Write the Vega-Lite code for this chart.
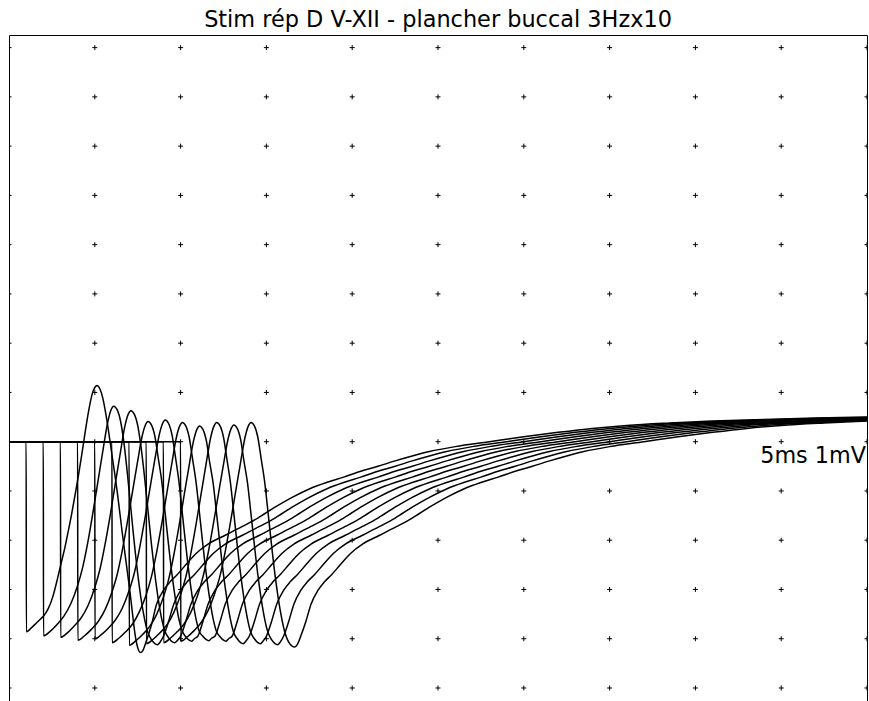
{
  "$schema": "https://vega.github.io/schema/vega-lite/v6.json",
  "autosize": "none",
  "width": 858,
  "height": 666,
  "padding": {"left": 9, "top": 35, "right": 2, "bottom": 0},
  "background": "white",
  "title": {"text": "Stim rép D V-XII - plancher buccal 3Hzx10", "font": "DejaVu Sans", "fontSize": 22.4, "fontWeight": "normal", "color": "black", "anchor": "middle", "offset": 4},
  "config": {
    "view": {"stroke": "black", "strokeWidth": 1}
  },
  "datasets": {
    "grid": [
{"gx":0,"gy":-5},{"gx":0,"gy":-4},{"gx":0,"gy":-3},{"gx":0,"gy":-2},{"gx":0,"gy":-1},{"gx":0,"gy":0},{"gx":0,"gy":1},{"gx":0,"gy":2},{"gx":0,"gy":3},{"gx":0,"gy":4},{"gx":0,"gy":5},{"gx":0,"gy":6},{"gx":0,"gy":7},{"gx":0,"gy":8},
{"gx":5,"gy":-5},{"gx":5,"gy":-4},{"gx":5,"gy":-3},{"gx":5,"gy":-2},{"gx":5,"gy":-1},{"gx":5,"gy":0},{"gx":5,"gy":1},{"gx":5,"gy":2},{"gx":5,"gy":3},{"gx":5,"gy":4},{"gx":5,"gy":5},{"gx":5,"gy":6},{"gx":5,"gy":7},{"gx":5,"gy":8},
{"gx":10,"gy":-5},{"gx":10,"gy":-4},{"gx":10,"gy":-3},{"gx":10,"gy":-2},{"gx":10,"gy":-1},{"gx":10,"gy":0},{"gx":10,"gy":1},{"gx":10,"gy":2},{"gx":10,"gy":3},{"gx":10,"gy":4},{"gx":10,"gy":5},{"gx":10,"gy":6},{"gx":10,"gy":7},{"gx":10,"gy":8},
{"gx":15,"gy":-5},{"gx":15,"gy":-4},{"gx":15,"gy":-3},{"gx":15,"gy":-2},{"gx":15,"gy":-1},{"gx":15,"gy":0},{"gx":15,"gy":1},{"gx":15,"gy":2},{"gx":15,"gy":3},{"gx":15,"gy":4},{"gx":15,"gy":5},{"gx":15,"gy":6},{"gx":15,"gy":7},{"gx":15,"gy":8},
{"gx":20,"gy":-5},{"gx":20,"gy":-4},{"gx":20,"gy":-3},{"gx":20,"gy":-2},{"gx":20,"gy":-1},{"gx":20,"gy":0},{"gx":20,"gy":1},{"gx":20,"gy":2},{"gx":20,"gy":3},{"gx":20,"gy":4},{"gx":20,"gy":5},{"gx":20,"gy":6},{"gx":20,"gy":7},{"gx":20,"gy":8},
{"gx":25,"gy":-5},{"gx":25,"gy":-4},{"gx":25,"gy":-3},{"gx":25,"gy":-2},{"gx":25,"gy":-1},{"gx":25,"gy":0},{"gx":25,"gy":1},{"gx":25,"gy":2},{"gx":25,"gy":3},{"gx":25,"gy":4},{"gx":25,"gy":5},{"gx":25,"gy":6},{"gx":25,"gy":7},{"gx":25,"gy":8},
{"gx":30,"gy":-5},{"gx":30,"gy":-4},{"gx":30,"gy":-3},{"gx":30,"gy":-2},{"gx":30,"gy":-1},{"gx":30,"gy":0},{"gx":30,"gy":1},{"gx":30,"gy":2},{"gx":30,"gy":3},{"gx":30,"gy":4},{"gx":30,"gy":5},{"gx":30,"gy":6},{"gx":30,"gy":7},{"gx":30,"gy":8},
{"gx":35,"gy":-5},{"gx":35,"gy":-4},{"gx":35,"gy":-3},{"gx":35,"gy":-2},{"gx":35,"gy":-1},{"gx":35,"gy":0},{"gx":35,"gy":1},{"gx":35,"gy":2},{"gx":35,"gy":3},{"gx":35,"gy":4},{"gx":35,"gy":5},{"gx":35,"gy":6},{"gx":35,"gy":7},{"gx":35,"gy":8},
{"gx":40,"gy":-5},{"gx":40,"gy":-4},{"gx":40,"gy":-3},{"gx":40,"gy":-2},{"gx":40,"gy":-1},{"gx":40,"gy":0},{"gx":40,"gy":1},{"gx":40,"gy":2},{"gx":40,"gy":3},{"gx":40,"gy":4},{"gx":40,"gy":5},{"gx":40,"gy":6},{"gx":40,"gy":7},{"gx":40,"gy":8},
{"gx":45,"gy":-5},{"gx":45,"gy":-4},{"gx":45,"gy":-3},{"gx":45,"gy":-2},{"gx":45,"gy":-1},{"gx":45,"gy":0},{"gx":45,"gy":1},{"gx":45,"gy":2},{"gx":45,"gy":3},{"gx":45,"gy":4},{"gx":45,"gy":5},{"gx":45,"gy":6},{"gx":45,"gy":7},{"gx":45,"gy":8},
{"gx":50,"gy":-5},{"gx":50,"gy":-4},{"gx":50,"gy":-3},{"gx":50,"gy":-2},{"gx":50,"gy":-1},{"gx":50,"gy":0},{"gx":50,"gy":1},{"gx":50,"gy":2},{"gx":50,"gy":3},{"gx":50,"gy":4},{"gx":50,"gy":5},{"gx":50,"gy":6},{"gx":50,"gy":7},{"gx":50,"gy":8}
    ],
    "traces": [
{"s":1,"t":0,"v":0},{"s":1,"t":1,"v":0},{"s":1,"t":1.01,"v":-3.86},{"s":1,"t":1.3,"v":-3.78},{"s":1,"t":1.6,"v":-3.68},{"s":1,"t":1.87,"v":-3.59},{"s":1,"t":2.1,"v":-3.5},{"s":1,"t":2.3,"v":-3.38},{"s":1,"t":2.55,"v":-3.15},{"s":1,"t":2.84,"v":-2.76},{"s":1,"t":3.05,"v":-2.45},{"s":1,"t":3.25,"v":-2.16},{"s":1,"t":3.45,"v":-1.82},{"s":1,"t":3.65,"v":-1.47},{"s":1,"t":3.85,"v":-1.08},{"s":1,"t":4.05,"v":-0.68},{"s":1,"t":4.25,"v":-0.24},{"s":1,"t":4.45,"v":0.22},{"s":1,"t":4.65,"v":0.64},{"s":1,"t":4.85,"v":0.97},{"s":1,"t":5.0,"v":1.1},{"s":1,"t":5.13,"v":1.14},{"s":1,"t":5.3,"v":1.07},{"s":1,"t":5.47,"v":0.88},{"s":1,"t":5.65,"v":0.55},{"s":1,"t":5.85,"v":0.1},{"s":1,"t":6.0,"v":-0.27},{"s":1,"t":6.14,"v":-0.6},{"s":1,"t":6.3,"v":-1.0},{"s":1,"t":6.45,"v":-1.42},{"s":1,"t":6.6,"v":-1.85},{"s":1,"t":6.75,"v":-2.25},{"s":1,"t":6.9,"v":-2.65},{"s":1,"t":7.05,"v":-3.05},{"s":1,"t":7.2,"v":-3.5},{"s":1,"t":7.35,"v":-3.92},{"s":1,"t":7.5,"v":-4.18},{"s":1,"t":7.66,"v":-4.28},{"s":1,"t":7.8,"v":-4.24},{"s":1,"t":8.0,"v":-4.05},{"s":1,"t":8.3,"v":-3.72},{"s":1,"t":8.6,"v":-3.3},{"s":1,"t":9.0,"v":-3.02},{"s":1,"t":9.4,"v":-2.84},{"s":1,"t":9.8,"v":-2.7},{"s":1,"t":10.3,"v":-2.5},{"s":1,"t":10.9,"v":-2.27},{"s":1,"t":11.6,"v":-2.08},{"s":1,"t":12.6,"v":-1.9},{"s":1,"t":13.6,"v":-1.72},{"s":1,"t":14.5,"v":-1.55},{"s":1,"t":15.5,"v":-1.33},{"s":1,"t":16.5,"v":-1.13},{"s":1,"t":17.5,"v":-0.96},{"s":1,"t":18.5,"v":-0.83},{"s":1,"t":19.5,"v":-0.72},{"s":1,"t":20.5,"v":-0.6},{"s":1,"t":21.5,"v":-0.5},{"s":1,"t":22.5,"v":-0.39},{"s":1,"t":23.5,"v":-0.29},{"s":1,"t":24.5,"v":-0.2},{"s":1,"t":26,"v":-0.1},{"s":1,"t":28,"v":0},{"s":1,"t":30,"v":0.1},{"s":1,"t":32,"v":0.19},{"s":1,"t":34,"v":0.27},{"s":1,"t":36,"v":0.33},{"s":1,"t":38.5,"v":0.38},{"s":1,"t":41,"v":0.42},{"s":1,"t":44,"v":0.45},{"s":1,"t":47,"v":0.48},{"s":1,"t":50,"v":0.5},

{"s":2,"t":0,"v":0},{"s":2,"t":2,"v":0},{"s":2,"t":2.01,"v":-3.94},{"s":2,"t":2.4,"v":-3.85},{"s":2,"t":2.8,"v":-3.71},{"s":2,"t":3.2,"v":-3.54},{"s":2,"t":3.6,"v":-3.29},{"s":2,"t":4.0,"v":-2.92},{"s":2,"t":4.3,"v":-2.54},{"s":2,"t":4.6,"v":-2.03},{"s":2,"t":4.9,"v":-1.42},{"s":2,"t":5.2,"v":-0.77},{"s":2,"t":5.5,"v":-0.12},{"s":2,"t":5.75,"v":0.39},{"s":2,"t":5.95,"v":0.65},{"s":2,"t":6.1,"v":0.72},{"s":2,"t":6.3,"v":0.65},{"s":2,"t":6.5,"v":0.42},{"s":2,"t":6.7,"v":-0.03},{"s":2,"t":6.9,"v":-0.65},{"s":2,"t":7.1,"v":-1.35},{"s":2,"t":7.3,"v":-2.05},{"s":2,"t":7.5,"v":-2.68},{"s":2,"t":7.7,"v":-3.2},{"s":2,"t":7.9,"v":-3.6},{"s":2,"t":8.1,"v":-3.88},{"s":2,"t":8.3,"v":-4.02},{"s":2,"t":8.5,"v":-4.1},{"s":2,"t":8.65,"v":-4.12},{"s":2,"t":8.8,"v":-4.07},{"s":2,"t":9.0,"v":-3.95},{"s":2,"t":9.3,"v":-3.65},{"s":2,"t":9.6,"v":-3.3},{"s":2,"t":10,"v":-3.02},{"s":2,"t":10.4,"v":-2.84},{"s":2,"t":10.8,"v":-2.7},{"s":2,"t":11.3,"v":-2.5},{"s":2,"t":11.9,"v":-2.27},{"s":2,"t":12.6,"v":-2.08},{"s":2,"t":13.6,"v":-1.9},{"s":2,"t":14.6,"v":-1.72},{"s":2,"t":15.5,"v":-1.55},{"s":2,"t":16.5,"v":-1.33},{"s":2,"t":17.5,"v":-1.13},{"s":2,"t":18.5,"v":-0.96},{"s":2,"t":19.5,"v":-0.83},{"s":2,"t":20.5,"v":-0.72},{"s":2,"t":21.5,"v":-0.6},{"s":2,"t":22.5,"v":-0.5},{"s":2,"t":23.5,"v":-0.39},{"s":2,"t":24.5,"v":-0.29},{"s":2,"t":25.5,"v":-0.2},{"s":2,"t":27,"v":-0.1},{"s":2,"t":29,"v":0},{"s":2,"t":31,"v":0.1},{"s":2,"t":33,"v":0.19},{"s":2,"t":35,"v":0.27},{"s":2,"t":37,"v":0.33},{"s":2,"t":39.5,"v":0.38},{"s":2,"t":42,"v":0.42},{"s":2,"t":45,"v":0.45},{"s":2,"t":48,"v":0.48},{"s":2,"t":51,"v":0.5},

{"s":3,"t":0,"v":0},{"s":3,"t":3,"v":0},{"s":3,"t":3.01,"v":-3.97},{"s":3,"t":3.4,"v":-3.88},{"s":3,"t":3.8,"v":-3.74},{"s":3,"t":4.2,"v":-3.58},{"s":3,"t":4.6,"v":-3.33},{"s":3,"t":5.0,"v":-2.96},{"s":3,"t":5.3,"v":-2.59},{"s":3,"t":5.6,"v":-2.08},{"s":3,"t":5.9,"v":-1.49},{"s":3,"t":6.2,"v":-0.84},{"s":3,"t":6.5,"v":-0.2},{"s":3,"t":6.75,"v":0.31},{"s":3,"t":6.95,"v":0.56},{"s":3,"t":7.1,"v":0.63},{"s":3,"t":7.3,"v":0.56},{"s":3,"t":7.5,"v":0.33},{"s":3,"t":7.7,"v":-0.12},{"s":3,"t":7.9,"v":-0.72},{"s":3,"t":8.1,"v":-1.4},{"s":3,"t":8.3,"v":-2.08},{"s":3,"t":8.5,"v":-2.69},{"s":3,"t":8.7,"v":-3.2},{"s":3,"t":8.9,"v":-3.6},{"s":3,"t":9.1,"v":-3.86},{"s":3,"t":9.3,"v":-3.98},{"s":3,"t":9.5,"v":-4.06},{"s":3,"t":9.65,"v":-4.08},{"s":3,"t":9.8,"v":-4.04},{"s":3,"t":10,"v":-3.95},{"s":3,"t":10.3,"v":-3.65},{"s":3,"t":10.6,"v":-3.3},{"s":3,"t":11,"v":-3.02},{"s":3,"t":11.4,"v":-2.84},{"s":3,"t":11.8,"v":-2.7},{"s":3,"t":12.3,"v":-2.5},{"s":3,"t":12.9,"v":-2.27},{"s":3,"t":13.6,"v":-2.08},{"s":3,"t":14.6,"v":-1.9},{"s":3,"t":15.6,"v":-1.72},{"s":3,"t":16.5,"v":-1.55},{"s":3,"t":17.5,"v":-1.33},{"s":3,"t":18.5,"v":-1.13},{"s":3,"t":19.5,"v":-0.96},{"s":3,"t":20.5,"v":-0.83},{"s":3,"t":21.5,"v":-0.72},{"s":3,"t":22.5,"v":-0.6},{"s":3,"t":23.5,"v":-0.5},{"s":3,"t":24.5,"v":-0.39},{"s":3,"t":25.5,"v":-0.29},{"s":3,"t":26.5,"v":-0.2},{"s":3,"t":28,"v":-0.1},{"s":3,"t":30,"v":0},{"s":3,"t":32,"v":0.1},{"s":3,"t":34,"v":0.19},{"s":3,"t":36,"v":0.27},{"s":3,"t":38,"v":0.33},{"s":3,"t":40.5,"v":0.38},{"s":3,"t":43,"v":0.42},{"s":3,"t":46,"v":0.45},{"s":3,"t":49,"v":0.48},{"s":3,"t":52,"v":0.5},

{"s":4,"t":0,"v":0},{"s":4,"t":4,"v":0},{"s":4,"t":4.01,"v":-4.03},{"s":4,"t":4.4,"v":-3.94},{"s":4,"t":4.8,"v":-3.81},{"s":4,"t":5.2,"v":-3.65},{"s":4,"t":5.6,"v":-3.41},{"s":4,"t":6.0,"v":-3.05},{"s":4,"t":6.3,"v":-2.7},{"s":4,"t":6.6,"v":-2.21},{"s":4,"t":6.9,"v":-1.63},{"s":4,"t":7.2,"v":-1.01},{"s":4,"t":7.5,"v":-0.39},{"s":4,"t":7.75,"v":0.1},{"s":4,"t":7.95,"v":0.34},{"s":4,"t":8.1,"v":0.41},{"s":4,"t":8.3,"v":0.34},{"s":4,"t":8.5,"v":0.11},{"s":4,"t":8.7,"v":-0.34},{"s":4,"t":8.9,"v":-0.8},{"s":4,"t":9.1,"v":-1.45},{"s":4,"t":9.3,"v":-2.1},{"s":4,"t":9.5,"v":-2.7},{"s":4,"t":9.7,"v":-3.2},{"s":4,"t":9.9,"v":-3.6},{"s":4,"t":10.1,"v":-3.85},{"s":4,"t":10.3,"v":-3.96},{"s":4,"t":10.5,"v":-4.03},{"s":4,"t":10.65,"v":-4.05},{"s":4,"t":10.8,"v":-4.0},{"s":4,"t":11,"v":-3.95},{"s":4,"t":11.3,"v":-3.65},{"s":4,"t":11.6,"v":-3.3},{"s":4,"t":12,"v":-3.02},{"s":4,"t":12.4,"v":-2.84},{"s":4,"t":12.8,"v":-2.7},{"s":4,"t":13.3,"v":-2.5},{"s":4,"t":13.9,"v":-2.27},{"s":4,"t":14.6,"v":-2.08},{"s":4,"t":15.6,"v":-1.9},{"s":4,"t":16.6,"v":-1.72},{"s":4,"t":17.5,"v":-1.55},{"s":4,"t":18.5,"v":-1.33},{"s":4,"t":19.5,"v":-1.13},{"s":4,"t":20.5,"v":-0.96},{"s":4,"t":21.5,"v":-0.83},{"s":4,"t":22.5,"v":-0.72},{"s":4,"t":23.5,"v":-0.6},{"s":4,"t":24.5,"v":-0.5},{"s":4,"t":25.5,"v":-0.39},{"s":4,"t":26.5,"v":-0.29},{"s":4,"t":27.5,"v":-0.2},{"s":4,"t":29,"v":-0.1},{"s":4,"t":31,"v":0},{"s":4,"t":33,"v":0.1},{"s":4,"t":35,"v":0.19},{"s":4,"t":37,"v":0.27},{"s":4,"t":39,"v":0.33},{"s":4,"t":41.5,"v":0.38},{"s":4,"t":44,"v":0.42},{"s":4,"t":47,"v":0.45},{"s":4,"t":50,"v":0.48},

{"s":5,"t":0,"v":0},{"s":5,"t":5,"v":0},{"s":5,"t":5.01,"v":-4.0},{"s":5,"t":5.4,"v":-3.91},{"s":5,"t":5.8,"v":-3.78},{"s":5,"t":6.2,"v":-3.62},{"s":5,"t":6.6,"v":-3.38},{"s":5,"t":7.0,"v":-3.02},{"s":5,"t":7.3,"v":-2.67},{"s":5,"t":7.6,"v":-2.18},{"s":5,"t":7.9,"v":-1.6},{"s":5,"t":8.2,"v":-0.98},{"s":5,"t":8.5,"v":-0.36},{"s":5,"t":8.75,"v":0.13},{"s":5,"t":8.95,"v":0.37},{"s":5,"t":9.1,"v":0.44},{"s":5,"t":9.3,"v":0.37},{"s":5,"t":9.5,"v":0.14},{"s":5,"t":9.7,"v":-0.31},{"s":5,"t":9.9,"v":-0.8},{"s":5,"t":10.1,"v":-1.45},{"s":5,"t":10.3,"v":-2.1},{"s":5,"t":10.5,"v":-2.7},{"s":5,"t":10.7,"v":-3.2},{"s":5,"t":10.9,"v":-3.6},{"s":5,"t":11.1,"v":-3.86},{"s":5,"t":11.3,"v":-3.95},{"s":5,"t":11.5,"v":-4.02},{"s":5,"t":11.65,"v":-4.04},{"s":5,"t":11.8,"v":-3.99},{"s":5,"t":12,"v":-3.95},{"s":5,"t":12.3,"v":-3.65},{"s":5,"t":12.6,"v":-3.3},{"s":5,"t":13,"v":-3.02},{"s":5,"t":13.4,"v":-2.84},{"s":5,"t":13.8,"v":-2.7},{"s":5,"t":14.3,"v":-2.5},{"s":5,"t":14.9,"v":-2.27},{"s":5,"t":15.6,"v":-2.08},{"s":5,"t":16.6,"v":-1.9},{"s":5,"t":17.6,"v":-1.72},{"s":5,"t":18.5,"v":-1.55},{"s":5,"t":19.5,"v":-1.33},{"s":5,"t":20.5,"v":-1.13},{"s":5,"t":21.5,"v":-0.96},{"s":5,"t":22.5,"v":-0.83},{"s":5,"t":23.5,"v":-0.72},{"s":5,"t":24.5,"v":-0.6},{"s":5,"t":25.5,"v":-0.5},{"s":5,"t":26.5,"v":-0.39},{"s":5,"t":27.5,"v":-0.29},{"s":5,"t":28.5,"v":-0.2},{"s":5,"t":30,"v":-0.1},{"s":5,"t":32,"v":0},{"s":5,"t":34,"v":0.1},{"s":5,"t":36,"v":0.19},{"s":5,"t":38,"v":0.27},{"s":5,"t":40,"v":0.33},{"s":5,"t":42.5,"v":0.38},{"s":5,"t":45,"v":0.42},{"s":5,"t":48,"v":0.45},{"s":5,"t":51,"v":0.48},

{"s":6,"t":0,"v":0},{"s":6,"t":6,"v":0},{"s":6,"t":6.01,"v":-4.08},{"s":6,"t":6.4,"v":-3.99},{"s":6,"t":6.8,"v":-3.86},{"s":6,"t":7.2,"v":-3.7},{"s":6,"t":7.6,"v":-3.45},{"s":6,"t":8.0,"v":-3.1},{"s":6,"t":8.3,"v":-2.74},{"s":6,"t":8.6,"v":-2.25},{"s":6,"t":8.9,"v":-1.67},{"s":6,"t":9.2,"v":-1.04},{"s":6,"t":9.5,"v":-0.42},{"s":6,"t":9.75,"v":0.08},{"s":6,"t":9.95,"v":0.32},{"s":6,"t":10.1,"v":0.39},{"s":6,"t":10.3,"v":0.32},{"s":6,"t":10.5,"v":0.09},{"s":6,"t":10.7,"v":-0.36},{"s":6,"t":10.9,"v":-0.82},{"s":6,"t":11.1,"v":-1.45},{"s":6,"t":11.3,"v":-2.1},{"s":6,"t":11.5,"v":-2.7},{"s":6,"t":11.7,"v":-3.2},{"s":6,"t":11.9,"v":-3.6},{"s":6,"t":12.1,"v":-3.86},{"s":6,"t":12.3,"v":-3.96},{"s":6,"t":12.5,"v":-4.03},{"s":6,"t":12.65,"v":-4.05},{"s":6,"t":12.8,"v":-4.0},{"s":6,"t":13,"v":-3.95},{"s":6,"t":13.3,"v":-3.65},{"s":6,"t":13.6,"v":-3.3},{"s":6,"t":14,"v":-3.02},{"s":6,"t":14.4,"v":-2.84},{"s":6,"t":14.8,"v":-2.7},{"s":6,"t":15.3,"v":-2.5},{"s":6,"t":15.9,"v":-2.27},{"s":6,"t":16.6,"v":-2.08},{"s":6,"t":17.6,"v":-1.9},{"s":6,"t":18.6,"v":-1.72},{"s":6,"t":19.5,"v":-1.55},{"s":6,"t":20.5,"v":-1.33},{"s":6,"t":21.5,"v":-1.13},{"s":6,"t":22.5,"v":-0.96},{"s":6,"t":23.5,"v":-0.83},{"s":6,"t":24.5,"v":-0.72},{"s":6,"t":25.5,"v":-0.6},{"s":6,"t":26.5,"v":-0.5},{"s":6,"t":27.5,"v":-0.39},{"s":6,"t":28.5,"v":-0.29},{"s":6,"t":29.5,"v":-0.2},{"s":6,"t":31,"v":-0.1},{"s":6,"t":33,"v":0},{"s":6,"t":35,"v":0.1},{"s":6,"t":37,"v":0.19},{"s":6,"t":39,"v":0.27},{"s":6,"t":41,"v":0.33},{"s":6,"t":43.5,"v":0.38},{"s":6,"t":46,"v":0.42},{"s":6,"t":49,"v":0.45},{"s":6,"t":52,"v":0.48},

{"s":7,"t":0,"v":0},{"s":7,"t":7,"v":0},{"s":7,"t":7.01,"v":-4.13},{"s":7,"t":7.4,"v":-4.04},{"s":7,"t":7.8,"v":-3.91},{"s":7,"t":8.2,"v":-3.75},{"s":7,"t":8.6,"v":-3.51},{"s":7,"t":9.0,"v":-3.15},{"s":7,"t":9.3,"v":-2.8},{"s":7,"t":9.6,"v":-2.31},{"s":7,"t":9.9,"v":-1.73},{"s":7,"t":10.2,"v":-1.1},{"s":7,"t":10.5,"v":-0.48},{"s":7,"t":10.75,"v":0.01},{"s":7,"t":10.95,"v":0.25},{"s":7,"t":11.1,"v":0.32},{"s":7,"t":11.3,"v":0.25},{"s":7,"t":11.5,"v":0.02},{"s":7,"t":11.7,"v":-0.43},{"s":7,"t":11.9,"v":-0.85},{"s":7,"t":12.1,"v":-1.47},{"s":7,"t":12.3,"v":-2.1},{"s":7,"t":12.5,"v":-2.7},{"s":7,"t":12.7,"v":-3.2},{"s":7,"t":12.9,"v":-3.6},{"s":7,"t":13.1,"v":-3.88},{"s":7,"t":13.3,"v":-4.0},{"s":7,"t":13.5,"v":-4.08},{"s":7,"t":13.65,"v":-4.1},{"s":7,"t":13.8,"v":-4.05},{"s":7,"t":14,"v":-3.95},{"s":7,"t":14.3,"v":-3.65},{"s":7,"t":14.6,"v":-3.3},{"s":7,"t":15,"v":-3.02},{"s":7,"t":15.4,"v":-2.84},{"s":7,"t":15.8,"v":-2.7},{"s":7,"t":16.3,"v":-2.5},{"s":7,"t":16.9,"v":-2.27},{"s":7,"t":17.6,"v":-2.08},{"s":7,"t":18.6,"v":-1.9},{"s":7,"t":19.6,"v":-1.72},{"s":7,"t":20.5,"v":-1.55},{"s":7,"t":21.5,"v":-1.33},{"s":7,"t":22.5,"v":-1.13},{"s":7,"t":23.5,"v":-0.96},{"s":7,"t":24.5,"v":-0.83},{"s":7,"t":25.5,"v":-0.72},{"s":7,"t":26.5,"v":-0.6},{"s":7,"t":27.5,"v":-0.5},{"s":7,"t":28.5,"v":-0.39},{"s":7,"t":29.5,"v":-0.29},{"s":7,"t":30.5,"v":-0.2},{"s":7,"t":32,"v":-0.1},{"s":7,"t":34,"v":0},{"s":7,"t":36,"v":0.1},{"s":7,"t":38,"v":0.19},{"s":7,"t":40,"v":0.27},{"s":7,"t":42,"v":0.33},{"s":7,"t":44.5,"v":0.38},{"s":7,"t":47,"v":0.42},{"s":7,"t":50,"v":0.45},

{"s":8,"t":0,"v":0},{"s":8,"t":8,"v":0},{"s":8,"t":8.01,"v":-4.1},{"s":8,"t":8.4,"v":-4.01},{"s":8,"t":8.8,"v":-3.88},{"s":8,"t":9.2,"v":-3.72},{"s":8,"t":9.6,"v":-3.47},{"s":8,"t":10.0,"v":-3.11},{"s":8,"t":10.3,"v":-2.75},{"s":8,"t":10.6,"v":-2.26},{"s":8,"t":10.9,"v":-1.68},{"s":8,"t":11.2,"v":-1.05},{"s":8,"t":11.5,"v":-0.42},{"s":8,"t":11.75,"v":0.08},{"s":8,"t":11.95,"v":0.32},{"s":8,"t":12.1,"v":0.39},{"s":8,"t":12.3,"v":0.32},{"s":8,"t":12.5,"v":0.09},{"s":8,"t":12.7,"v":-0.36},{"s":8,"t":12.9,"v":-0.82},{"s":8,"t":13.1,"v":-1.45},{"s":8,"t":13.3,"v":-2.1},{"s":8,"t":13.5,"v":-2.7},{"s":8,"t":13.7,"v":-3.2},{"s":8,"t":13.9,"v":-3.6},{"s":8,"t":14.1,"v":-3.88},{"s":8,"t":14.3,"v":-4.0},{"s":8,"t":14.5,"v":-4.08},{"s":8,"t":14.65,"v":-4.1},{"s":8,"t":14.8,"v":-4.05},{"s":8,"t":15,"v":-3.95},{"s":8,"t":15.3,"v":-3.65},{"s":8,"t":15.6,"v":-3.3},{"s":8,"t":16,"v":-3.02},{"s":8,"t":16.4,"v":-2.84},{"s":8,"t":16.8,"v":-2.7},{"s":8,"t":17.3,"v":-2.5},{"s":8,"t":17.9,"v":-2.27},{"s":8,"t":18.6,"v":-2.08},{"s":8,"t":19.6,"v":-1.9},{"s":8,"t":20.6,"v":-1.72},{"s":8,"t":21.5,"v":-1.55},{"s":8,"t":22.5,"v":-1.33},{"s":8,"t":23.5,"v":-1.13},{"s":8,"t":24.5,"v":-0.96},{"s":8,"t":25.5,"v":-0.83},{"s":8,"t":26.5,"v":-0.72},{"s":8,"t":27.5,"v":-0.6},{"s":8,"t":28.5,"v":-0.5},{"s":8,"t":29.5,"v":-0.39},{"s":8,"t":30.5,"v":-0.29},{"s":8,"t":31.5,"v":-0.2},{"s":8,"t":33,"v":-0.1},{"s":8,"t":35,"v":0},{"s":8,"t":37,"v":0.1},{"s":8,"t":39,"v":0.19},{"s":8,"t":41,"v":0.27},{"s":8,"t":43,"v":0.33},{"s":8,"t":45.5,"v":0.38},{"s":8,"t":48,"v":0.42},{"s":8,"t":51,"v":0.45},

{"s":9,"t":0,"v":0},{"s":9,"t":9,"v":0},{"s":9,"t":9.01,"v":-4.08},{"s":9,"t":9.4,"v":-3.99},{"s":9,"t":9.8,"v":-3.86},{"s":9,"t":10.2,"v":-3.7},{"s":9,"t":10.6,"v":-3.46},{"s":9,"t":11.0,"v":-3.11},{"s":9,"t":11.3,"v":-2.75},{"s":9,"t":11.6,"v":-2.27},{"s":9,"t":11.9,"v":-1.69},{"s":9,"t":12.2,"v":-1.07},{"s":9,"t":12.5,"v":-0.46},{"s":9,"t":12.75,"v":0.03},{"s":9,"t":12.95,"v":0.27},{"s":9,"t":13.1,"v":0.34},{"s":9,"t":13.3,"v":0.27},{"s":9,"t":13.5,"v":0.04},{"s":9,"t":13.7,"v":-0.41},{"s":9,"t":13.9,"v":-0.84},{"s":9,"t":14.1,"v":-1.46},{"s":9,"t":14.3,"v":-2.1},{"s":9,"t":14.5,"v":-2.7},{"s":9,"t":14.7,"v":-3.2},{"s":9,"t":14.9,"v":-3.6},{"s":9,"t":15.1,"v":-3.88},{"s":9,"t":15.3,"v":-4.02},{"s":9,"t":15.5,"v":-4.1},{"s":9,"t":15.65,"v":-4.12},{"s":9,"t":15.8,"v":-4.07},{"s":9,"t":16,"v":-3.95},{"s":9,"t":16.3,"v":-3.65},{"s":9,"t":16.6,"v":-3.3},{"s":9,"t":17,"v":-3.02},{"s":9,"t":17.4,"v":-2.84},{"s":9,"t":17.8,"v":-2.7},{"s":9,"t":18.3,"v":-2.5},{"s":9,"t":18.9,"v":-2.27},{"s":9,"t":19.6,"v":-2.08},{"s":9,"t":20.6,"v":-1.9},{"s":9,"t":21.6,"v":-1.72},{"s":9,"t":22.5,"v":-1.55},{"s":9,"t":23.5,"v":-1.33},{"s":9,"t":24.5,"v":-1.13},{"s":9,"t":25.5,"v":-0.96},{"s":9,"t":26.5,"v":-0.83},{"s":9,"t":27.5,"v":-0.72},{"s":9,"t":28.5,"v":-0.6},{"s":9,"t":29.5,"v":-0.5},{"s":9,"t":30.5,"v":-0.39},{"s":9,"t":31.5,"v":-0.29},{"s":9,"t":32.5,"v":-0.2},{"s":9,"t":34,"v":-0.1},{"s":9,"t":36,"v":0},{"s":9,"t":38,"v":0.1},{"s":9,"t":40,"v":0.19},{"s":9,"t":42,"v":0.27},{"s":9,"t":44,"v":0.33},{"s":9,"t":46.5,"v":0.38},{"s":9,"t":49,"v":0.42},{"s":9,"t":52,"v":0.45},

{"s":10,"t":0,"v":0},{"s":10,"t":10,"v":0},{"s":10,"t":10.01,"v":-4.05},{"s":10,"t":10.4,"v":-3.96},{"s":10,"t":10.8,"v":-3.83},{"s":10,"t":11.2,"v":-3.67},{"s":10,"t":11.6,"v":-3.43},{"s":10,"t":12.0,"v":-3.07},{"s":10,"t":12.3,"v":-2.72},{"s":10,"t":12.6,"v":-2.23},{"s":10,"t":12.9,"v":-1.65},{"s":10,"t":13.2,"v":-1.03},{"s":10,"t":13.5,"v":-0.41},{"s":10,"t":13.75,"v":0.08},{"s":10,"t":13.95,"v":0.32},{"s":10,"t":14.1,"v":0.39},{"s":10,"t":14.3,"v":0.32},{"s":10,"t":14.5,"v":0.09},{"s":10,"t":14.7,"v":-0.36},{"s":10,"t":14.9,"v":-0.82},{"s":10,"t":15.1,"v":-1.45},{"s":10,"t":15.3,"v":-2.1},{"s":10,"t":15.5,"v":-2.7},{"s":10,"t":15.7,"v":-3.2},{"s":10,"t":15.9,"v":-3.6},{"s":10,"t":16.1,"v":-3.9},{"s":10,"t":16.3,"v":-4.07},{"s":10,"t":16.5,"v":-4.15},{"s":10,"t":16.65,"v":-4.17},{"s":10,"t":16.8,"v":-4.12},{"s":10,"t":17,"v":-3.95},{"s":10,"t":17.3,"v":-3.65},{"s":10,"t":17.6,"v":-3.3},{"s":10,"t":18,"v":-3.02},{"s":10,"t":18.4,"v":-2.84},{"s":10,"t":18.8,"v":-2.7},{"s":10,"t":19.3,"v":-2.5},{"s":10,"t":19.9,"v":-2.27},{"s":10,"t":20.6,"v":-2.08},{"s":10,"t":21.6,"v":-1.9},{"s":10,"t":22.6,"v":-1.72},{"s":10,"t":23.5,"v":-1.55},{"s":10,"t":24.5,"v":-1.33},{"s":10,"t":25.5,"v":-1.13},{"s":10,"t":26.5,"v":-0.96},{"s":10,"t":27.5,"v":-0.83},{"s":10,"t":28.5,"v":-0.72},{"s":10,"t":29.5,"v":-0.6},{"s":10,"t":30.5,"v":-0.5},{"s":10,"t":31.5,"v":-0.39},{"s":10,"t":32.5,"v":-0.29},{"s":10,"t":33.5,"v":-0.2},{"s":10,"t":35,"v":-0.1},{"s":10,"t":37,"v":0},{"s":10,"t":39,"v":0.1},{"s":10,"t":41,"v":0.19},{"s":10,"t":43,"v":0.27},{"s":10,"t":45,"v":0.33},{"s":10,"t":47.5,"v":0.38},{"s":10,"t":50,"v":0.42}
    ],
    "labels": [{"t": 50, "v": -0.44, "label": "5ms 1mV"}]
  },
  "layer": [
    {
      "data": {"name": "grid"},
      "mark": {"type": "point", "shape": "M-1,0H1M0,-1V1", "size": 25, "filled": false, "stroke": "black", "strokeWidth": 1, "opacity": 1, "clip": true},
      "encoding": {
        "x": {"field": "gx", "type": "quantitative", "scale": {"domain": [0, 50], "nice": false, "zero": false}, "axis": null},
        "y": {"field": "gy", "type": "quantitative", "scale": {"domain": [-5.264, 8.256], "nice": false, "zero": false}, "axis": null}
      }
    },
    {
      "data": {"name": "traces"},
      "mark": {"type": "line", "color": "black", "strokeWidth": 1.5, "clip": true, "interpolate": "monotone"},
      "encoding": {
        "x": {"field": "t", "type": "quantitative", "axis": null},
        "y": {"field": "v", "type": "quantitative", "axis": null},
        "detail": {"field": "s", "type": "nominal"}
      }
    },
    {
      "data": {"name": "labels"},
      "mark": {"type": "text", "align": "right", "baseline": "alphabetic", "font": "DejaVu Sans", "fontSize": 22.3, "color": "black", "dx": -1},
      "encoding": {
        "x": {"field": "t", "type": "quantitative", "axis": null},
        "y": {"field": "v", "type": "quantitative", "axis": null},
        "text": {"field": "label"}
      }
    }
  ]
}
